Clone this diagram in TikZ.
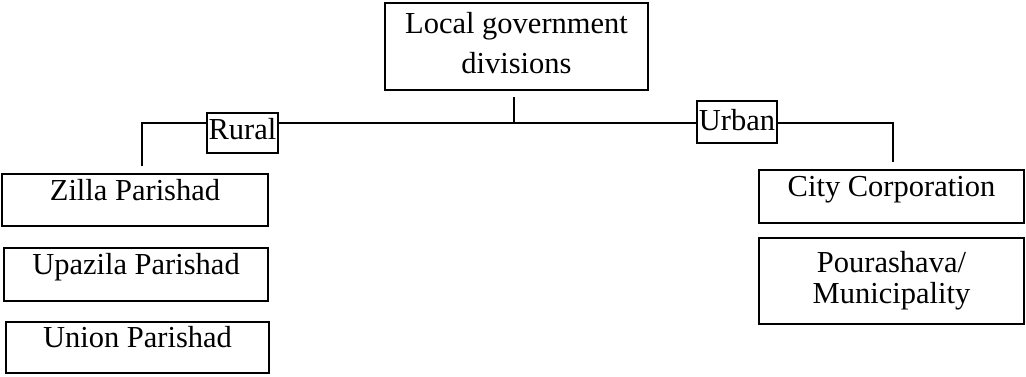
\documentclass[tikz,border=0pt]{standalone}
\usepackage{fontspec}
\setmainfont{Liberation Serif}
\usepackage{tikz}
\usetikzlibrary{positioning}

\begin{document}
\begin{tikzpicture}[x=1pt, y=-1pt]

		\tikzset{
		    unitbox/.style={draw, line width=2.2pt, inner sep=0pt, align=center,
		        font=\fontsize{30.5}{36}\selectfont},
		    onerow/.style={text height=21pt, text depth=21pt},
		    tagbox/.style={draw, line width=2.2pt, inner sep=0pt,
		        font=\fontsize{30.5}{36}\selectfont},
		    link/.style={line width=2.2pt}
		}

		\useasboundingbox (0,0) rectangle (1026,376);

		% top box

		\node[unitbox, minimum width=263pt, minimum height=87pt, text depth=8pt,
		      font=\fontsize{30.5}{40}\selectfont] (gov) at (516.5,46.5)
		      {Local government\\divisions};

		% branch labels

		\node[tagbox, text depth=8pt, minimum width=71pt, minimum height=40pt] (rural) at (242.5,133) {Rural};
		\node[tagbox, text depth=4pt, minimum width=80pt, minimum height=42pt] (urban) at (737,122) {Urban};

		% rural units

		\node[unitbox, onerow, minimum width=266pt, minimum height=52pt] (zilla) at (135,200) {Zilla Parishad};
		\node[unitbox, onerow, minimum width=264pt, minimum height=53pt] (upazila) at (136,274.5) {Upazila Parishad};
		\node[unitbox, onerow, minimum width=263pt, minimum height=51pt] (union) at (137.5,347.5) {Union Parishad};

		% urban units

		\node[unitbox, onerow, minimum width=265pt, minimum height=53pt] (city) at (891.5,196.5) {City Corporation};
		\node[unitbox, minimum width=265pt, minimum height=86pt,
		      font=\fontsize{30.5}{31}\selectfont] (poura) at (891.5,281)
		      {Pourashava/\\Municipality};

		% markings

		\coordinate (stub) at (514,97);
		\coordinate (hub) at (514,123);
		\coordinate (rdrop) at (142,166);
		\coordinate (udrop) at (893,162);

		\draw[link] (stub) -- (hub);
		\draw[link] (rural.east |- hub) -- (urban.west |- hub);
		\draw[link] (rural.west |- hub) -| (rdrop);
		\draw[link] (urban.east |- hub) -| (udrop);

\end{tikzpicture}
\end{document}
